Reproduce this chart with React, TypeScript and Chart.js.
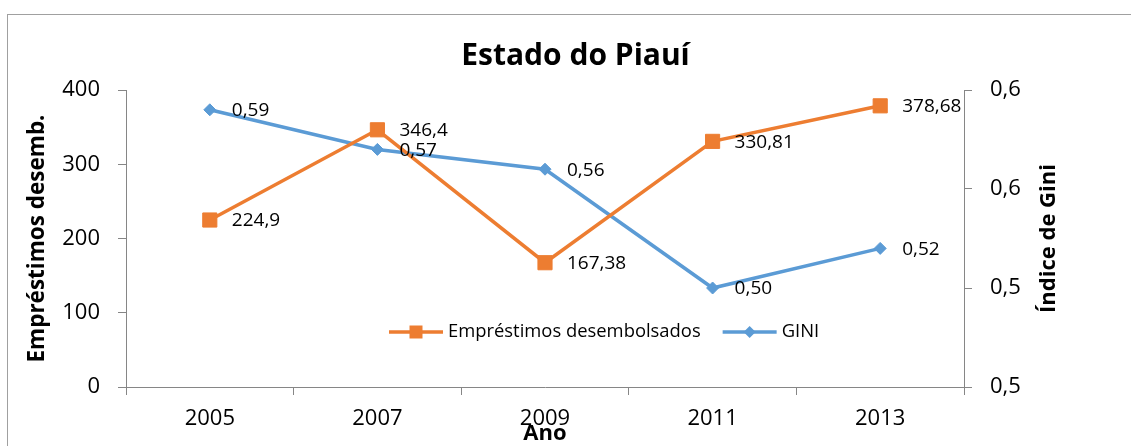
import React, { useEffect, useRef } from "react";
import { Chart, registerables } from "chart.js";

Chart.register(...registerables);

const years = ["2005", "2007", "2009", "2011", "2013"];
const emprestimos = [224.9, 346.4, 167.38, 330.81, 378.68];
const gini = [0.59, 0.57, 0.56, 0.5, 0.52];
const leftTickLabels = ["0", "100", "200", "300", "400"];
const rightTickLabels = ["0,5", "0,5", "0,6", "0,6"];

const FONT = "'Open Sans', sans-serif";
const ORANGE = "#ED7D31";
const BLUE = "#5B9BD5";
const AXIS = "#868686";

const fmtEmp = (v: number) => String(v).replace(".", ",");
const fmtGini = (v: number) => v.toFixed(2).replace(".", ",");

const pointLabelsPlugin = {
  id: "pointLabels",
  afterDatasetsDraw(chart: any) {
    const ctx = chart.ctx;
    ctx.save();
    ctx.font = `19px ${FONT}`;
    ctx.fillStyle = "#000";
    ctx.textAlign = "left";
    ctx.textBaseline = "middle";
    chart.data.datasets.forEach((ds: any, i: number) => {
      const meta = chart.getDatasetMeta(i);
      const fmt = i === 0 ? fmtEmp : fmtGini;
      meta.data.forEach((pt: any, j: number) => {
        ctx.fillText(fmt(ds.data[j]), pt.x + 22, pt.y + 1);
      });
    });
    ctx.restore();
  },
};

const legendPlugin = {
  id: "customLegend",
  afterDraw(chart: any) {
    const ctx = chart.ctx;
    const area = chart.chartArea;
    const y = area.bottom - 55;
    let x = area.left + 263;
    ctx.save();
    ctx.font = `18.4px ${FONT}`;
    ctx.textAlign = "left";
    ctx.textBaseline = "middle";
    chart.data.datasets.forEach((ds: any, i: number) => {
      ctx.strokeStyle = ds.borderColor;
      ctx.fillStyle = ds.borderColor;
      ctx.lineWidth = 3.5;
      ctx.beginPath();
      ctx.moveTo(x, y);
      ctx.lineTo(x + 54, y);
      ctx.stroke();
      const cx = x + 27;
      ctx.beginPath();
      if (i === 0) {
        ctx.rect(cx - 6.5, y - 6.5, 13, 13);
      } else {
        ctx.moveTo(cx, y - 6);
        ctx.lineTo(cx + 6, y);
        ctx.lineTo(cx, y + 6);
        ctx.lineTo(cx - 6, y);
        ctx.closePath();
      }
      ctx.fill();
      ctx.fillStyle = "#000";
      ctx.fillText(ds.label, x + 59, y);
      const w = ctx.measureText(ds.label).width;
      x = x + 59 + w + 22;
    });
    ctx.restore();
  },
};

const rightTitlePlugin = {
  id: "rightTitle",
  afterDraw(chart: any) {
    const ctx = chart.ctx;
    const s = chart.scales.y1;
    ctx.save();
    ctx.translate(s.left + 85, (s.top + s.bottom) / 2);
    ctx.rotate(-Math.PI / 2);
    ctx.font = `bold 22px ${FONT}`;
    ctx.fillStyle = "#000";
    ctx.textAlign = "center";
    ctx.textBaseline = "middle";
    ctx.fillText("Índice de Gini", 0, 0);
    ctx.restore();
  },
};

export default function App() {
  const ref = useRef<HTMLCanvasElement | null>(null);

  useEffect(() => {
    if (!ref.current) return;
    const tickFont = { family: FONT, size: 22 };
    const titleFont = { family: FONT, size: 22.5, weight: "bold" as const };
    const chart = new Chart(ref.current, {
      type: "line",
      data: {
        labels: years,
        datasets: [
          {
            label: "Empréstimos desembolsados",
            data: emprestimos,
            yAxisID: "y",
            borderColor: ORANGE,
            backgroundColor: ORANGE,
            borderWidth: 3.5,
            pointStyle: "rect",
            pointRadius: 10,
            pointBorderWidth: 1,
            tension: 0,
          },
          {
            label: "GINI",
            data: gini,
            yAxisID: "y1",
            borderColor: BLUE,
            backgroundColor: BLUE,
            borderWidth: 3.5,
            pointStyle: "rectRot",
            pointRadius: 6,
            pointBorderWidth: 1,
            tension: 0,
          },
        ],
      },
      options: {
        responsive: false,
        animation: false,
        devicePixelRatio: 1,
        layout: { padding: { left: 20, right: 0, top: 0, bottom: 0 } },
        plugins: {
          legend: { display: false },
          tooltip: { enabled: false },
          title: {
            display: true,
            text: "Estado do Piauí",
            color: "#000",
            font: { family: FONT, size: 30, weight: "bold" },
            padding: { top: 38, bottom: 16 },
          },
        },
        scales: {
          x: {
            offset: true,
            grid: { offset: true, drawOnChartArea: false, color: AXIS, tickLength: 8 },
            border: { color: AXIS },
            ticks: { font: tickFont, color: "#000", padding: 11, maxRotation: 0, autoSkip: false },
            title: {
              display: true,
              text: "Ano",
              color: "#000",
              font: { family: FONT, size: 22, weight: "bold", lineHeight: 1 },
              padding: { top: 0, bottom: 1 },
            },
            afterFit: (s: any) => {
              s.height = 59;
            },
          },
          y: {
            position: "left",
            min: 0,
            max: 400,
            grid: { drawOnChartArea: false, color: AXIS, tickLength: 8 },
            border: { color: AXIS },
            ticks: {
              stepSize: 100,
              font: tickFont,
              color: "#000",
              padding: 18,
              callback: (_v: any, i: number) => leftTickLabels[i],
            },
            title: {
              display: true,
              text: "Empréstimos desemb.",
              color: "#000",
              font: titleFont,
              padding: { top: 4, bottom: 0 },
            },
            afterFit: (s: any) => {
              s.width = 106;
            },
          },
          y1: {
            position: "right",
            min: 0.45,
            max: 0.6,
            grid: { drawOnChartArea: false, color: AXIS, tickLength: 8 },
            border: { color: AXIS },
            ticks: {
              stepSize: 0.05,
              font: tickFont,
              color: "#000",
              padding: 18,
              callback: (_v: any, i: number) => rightTickLabels[i],
            },
            afterFit: (s: any) => {
              s.width = 167;
            },
          },
        },
      } as any,
      plugins: [pointLabelsPlugin, legendPlugin, rightTitlePlugin],
    });
    return () => chart.destroy();
  }, []);

  return (
    <div
      style={{
        position: "absolute",
        left: 0,
        top: 0,
        width: 1131,
        height: 446,
        overflow: "hidden",
        background: "#fff",
      }}
    >
      <div
        style={{
          position: "absolute",
          left: 7,
          top: 14,
          width: 1200,
          height: 500,
          border: "1px solid #a0a0a0",
        }}
      />
      <canvas
        ref={ref}
        width={1131}
        height={446}
        style={{ position: "absolute", left: 0, top: 0, width: 1131, height: 446 }}
      />
    </div>
  );
}
